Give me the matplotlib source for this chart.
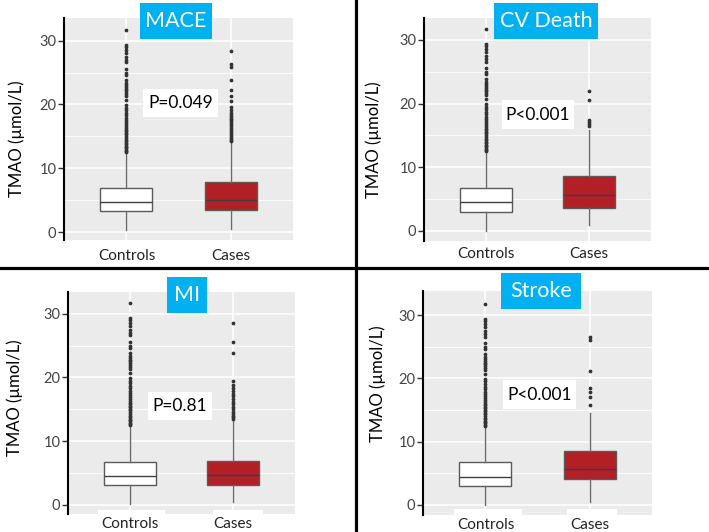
import matplotlib
matplotlib.use("Agg")
import matplotlib.pyplot as plt
from matplotlib.patches import Rectangle

plt.rcParams['font.family'] = ['Lato', 'DejaVu Sans']

# data
panel_titles = ["MACE", "CV Death", "MI", "Stroke"]
p_texts = ["P=0.049", "P<0.001", "P=0.81", "P<0.001"]
groups = ["Controls", "Cases"]

# box stats per panel: [controls, cases]
q1 = [[3.3, 3.4], [3.0, 3.6], [3.1, 3.1], [3.05, 4.05]]
med = [[4.7, 5.0], [4.47, 5.57], [4.5, 4.66], [4.47, 5.74]]
q3 = [[6.95, 7.8], [6.76, 8.65], [6.75, 6.86], [6.74, 8.57]]
whis_lo = [[0.3, 0.5], [0.0, 0.9], [0.1, 0.47], [0.0, 0.5]]
whis_hi = [[12.3, 14.1], [12.3, 15.8], [12.3, 13.2], [12.3, 14.6]]

controls_out = [31.7, 29.4, 29.0, 28.6, 28.1, 27.5, 27.0, 26.6, 25.6, 25.0, 24.6,
                23.8, 23.4, 23.1, 22.8, 22.5, 22.2, 21.9, 21.6, 21.3, 20.7, 19.9,
                19.5, 19.1, 18.7, 18.3, 17.9, 17.5, 17.2, 16.9, 16.6, 16.3, 16.0,
                15.8, 15.5, 15.3, 15.0, 14.8, 14.5, 14.3, 14.0, 13.8, 13.5, 13.3,
                13.1, 12.9, 12.7, 12.5]
cases_out_mace = [28.4, 26.4, 25.9, 23.8, 22.2, 21.3, 20.6, 19.6, 19.2, 18.7, 18.4,
                  18.1, 17.8, 17.5, 17.2, 16.9, 16.6, 16.3, 16.0, 15.7, 15.4, 15.1,
                  14.8, 14.5, 14.3]
cases_out_cvd = [22.0, 20.5, 17.4, 17.1, 16.8, 16.5]
cases_out_mi = [28.5, 25.6, 23.8, 19.4, 18.8, 18.3, 17.8, 17.4, 17.0, 16.6, 16.2,
                15.8, 15.4, 15.0, 14.6, 14.3, 14.0, 13.7, 13.4]
cases_out_stroke = [26.6, 26.1, 21.1, 18.4, 17.9, 17.1, 15.8]
cases_out = [cases_out_mace, cases_out_cvd, cases_out_mi, cases_out_stroke]

W, H = 709, 532
fig = plt.figure(figsize=(W / 100, H / 100), dpi=100)
fig.patch.set_facecolor('white')

def frect(x0, y0, x1, y1):
    # pixel box (top-left origin) -> figure fraction
    return (x0 / W, 1 - y1 / H, (x1 - x0) / W, (y1 - y0) / H)

# layout in pixels
ax_px = [(64, 18, 293, 240), (424, 18, 651, 241), (68, 292, 295, 514), (423, 291, 652, 515)]
ylims = [(-1.25, 33.56), (-1.62, 33.46), (-1.46, 33.41), (-1.58, 33.79)]
title_px = [(140, 3, 212, 39), (494, 3, 598, 39), (167, 277, 207, 313), (501, 273, 581, 309)]
pbox_px = [(143, 89, 218, 117), (502, 100, 574, 129), (148, 392, 212, 420), (503, 380, 576, 409)]
ylab_pos = [(-0.17, 0.455), (-0.185, 0.453), (-0.198, 0.524), (-0.16, 0.585)]
xpad = [6.5, 4.5, 2.5, 2]

for i in range(4):
    x0, y0, x1, y1 = ax_px[i]
    l, b, w, h = frect(x0, y0, x1, y1)
    ax = fig.add_axes([l, b, w, h])
    ax.set_facecolor('#EBEBEB')
    stats = []
    for j in range(2):
        stats.append(dict(med=med[i][j], q1=q1[i][j], q3=q3[i][j],
                          whislo=whis_lo[i][j], whishi=whis_hi[i][j],
                          fliers=controls_out if j == 0 else cases_out[i]))
    bp = ax.bxp(stats, positions=[1, 2], widths=0.5, patch_artist=True,
                showcaps=False,
                boxprops=dict(edgecolor='#5a5a5a', linewidth=1.0),
                medianprops=dict(color='#3f3f3f', linewidth=1.0),
                whiskerprops=dict(color='#6a6a6a', linewidth=1.0),
                flierprops=dict(marker='o', markersize=1.7, markerfacecolor='#333333',
                                markeredgecolor='#333333'))
    bp['boxes'][0].set_facecolor('white')
    bp['boxes'][1].set_facecolor('#B21F24')
    for k in bp['boxes'] + bp['medians'] + bp['whiskers'] + bp['fliers']:
        k.set_zorder(3)

    ax.set_xlim(0.4, 2.6)
    ax.set_ylim(*ylims[i])
    ax.set_yticks([0, 10, 20, 30])
    ax.set_yticks([5, 15, 25], minor=True)
    ax.set_xticks([1, 2])
    ax.set_xticklabels(groups, fontsize=11, color='#222222')
    ax.tick_params(axis='x', length=0, pad=xpad[i])
    ax.tick_params(axis='y', length=4, width=1, color='#333333', labelsize=10.5,
                   labelcolor='#444444', pad=1.5)
    ax.tick_params(axis='y', which='minor', length=0)
    ax.grid(True, which='major', color='white', linewidth=1.1)
    ax.grid(True, which='minor', axis='y', color='white', linewidth=0.6)
    ax.set_axisbelow(True)
    for s in ['top', 'right', 'bottom']:
        ax.spines[s].set_visible(False)
    ax.spines['left'].set_color('black')
    ax.spines['left'].set_linewidth(1.5)
    ax.set_ylabel("TMAO (µmol/L)", fontsize=12, color='black')
    ax.yaxis.set_label_coords(*ylab_pos[i])

    # cyan title box
    tx0, ty0, tx1, ty1 = title_px[i]
    fig.patches.append(Rectangle(frect(tx0, ty0, tx1, ty1)[:2], (tx1 - tx0) / W, (ty1 - ty0) / H,
                                 transform=fig.transFigure, facecolor='#00B0F0',
                                 edgecolor='none', zorder=5))
    fig.text((tx0 + tx1) / 2 / W, 1 - (ty0 + ty1) / 2 / H, panel_titles[i],
             color='white', fontsize=15.5, ha='center', va='center', zorder=6)

    # p-value box
    px0, py0, px1, py1 = pbox_px[i]
    fig.patches.append(Rectangle(frect(px0, py0, px1, py1)[:2], (px1 - px0) / W, (py1 - py0) / H,
                                 transform=fig.transFigure, facecolor='white',
                                 edgecolor='none', zorder=5))
    fig.text((px0 + px1) / 2 / W, 1 - (py0 + py1) / 2 / H, p_texts[i],
             color='black', fontsize=12.5, ha='center', va='center', zorder=6)

# white strips behind the lower labels
for (a, b_, c, d) in [(98, 510, 165, 514), (213, 510, 263, 514),
                      (454, 509, 522, 515), (567, 509, 617, 515)]:
    fig.patches.append(Rectangle(frect(a, b_, c, d)[:2], (c - a) / W, (d - b_) / H,
                                 transform=fig.transFigure, facecolor='white',
                                 edgecolor='none', zorder=4))

# black dividers
fig.add_artist(plt.Line2D([356 / W, 356 / W], [0, 1], color='black', linewidth=2.3,
                          transform=fig.transFigure))
fig.add_artist(plt.Line2D([0, 1], [1 - 268 / H, 1 - 268 / H], color='black', linewidth=2.3,
                          transform=fig.transFigure))

fig.savefig('out.png', dpi=100)
